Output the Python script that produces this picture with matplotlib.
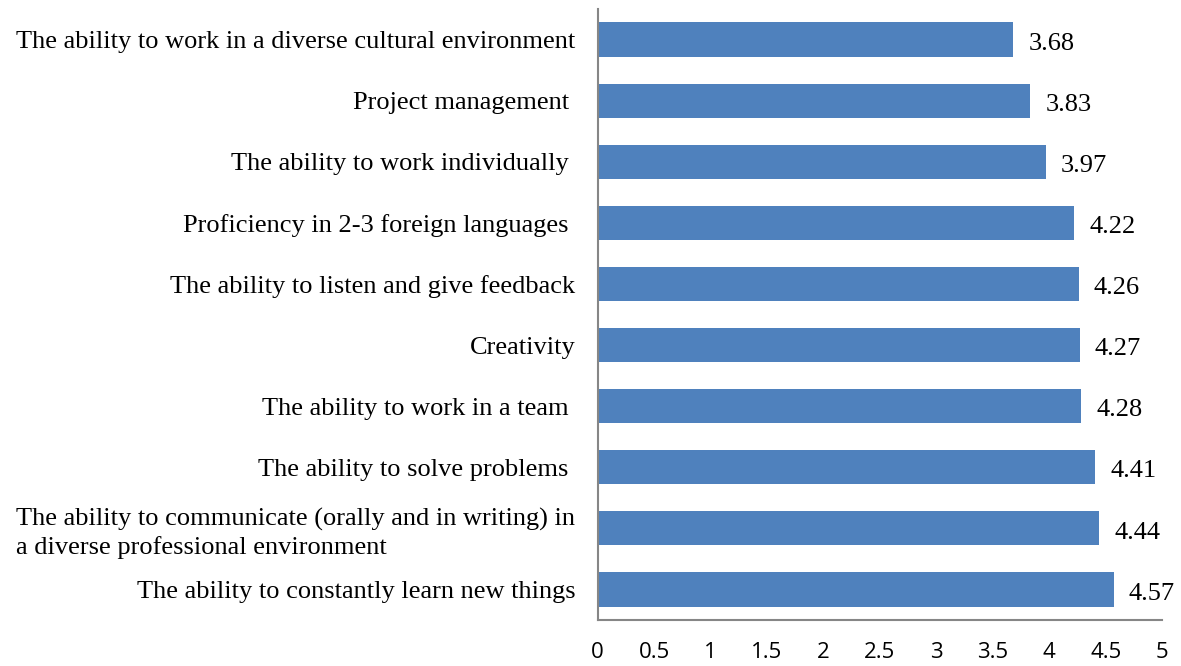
import matplotlib
matplotlib.use("Agg")
import matplotlib.pyplot as plt

# categories listed bottom to top
skills = [
    "The ability to constantly learn new things",
    "The ability to communicate (orally and in writing) in\na diverse professional environment",
    "The ability to solve problems ",
    "The ability to work in a team ",
    "Creativity",
    "The ability to listen and give feedback",
    "Proficiency in 2-3 foreign languages ",
    "The ability to work individually ",
    "Project management ",
    "The ability to work in a diverse cultural environment",
]
scores = [4.57, 4.44, 4.41, 4.28, 4.27, 4.26, 4.22, 3.97, 3.83, 3.68]
xticks = [0, 0.5, 1, 1.5, 2, 2.5, 3, 3.5, 4, 4.5, 5]
xtick_labels = ["0", "0.5", "1", "1.5", "2", "2.5", "3", "3.5", "4", "4.5", "5"]

BAR = "#4F81BD"
AXIS = "#868686"
SERIF = "Liberation Serif"

fig = plt.figure(figsize=(11.81, 6.66), dpi=100)
ax = fig.add_axes([0.506, 0.069, 0.478, 0.9175])

ypos = list(range(len(skills)))
ax.barh(ypos, scores, height=0.56, color=BAR, zorder=2)
ax.set_xlim(0, 5)
ax.set_ylim(-0.5, len(skills) - 0.5)

for y, v in zip(ypos, scores):
    ax.annotate(f"{v:.2f}", (v, y), xytext=(11, -3), textcoords="offset points",
                ha="left", va="center", fontsize=19, family=SERIF)

ax.set_yticks(ypos)
ax.set_yticklabels(skills, fontsize=19, family=SERIF, linespacing=1.3)
for lab in ax.get_yticklabels():
    lab.set_multialignment("left")
ax.set_xticks(xticks)
ax.set_xticklabels(xtick_labels, fontsize=16, family="Open Sans")
ax.tick_params(axis="both", length=0)
ax.tick_params(axis="y", pad=16)
ax.tick_params(axis="x", pad=16)

for side in ["top", "right"]:
    ax.spines[side].set_visible(False)
for side in ["left", "bottom"]:
    ax.spines[side].set_color(AXIS)
    ax.spines[side].set_linewidth(1.5)

fig.savefig("out.png", dpi=100)
